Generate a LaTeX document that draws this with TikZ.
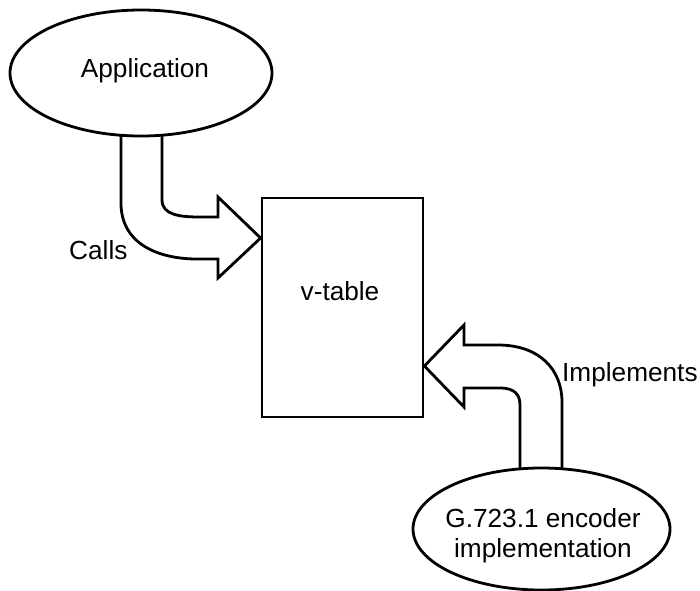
\documentclass[tikz,border=0pt]{standalone}
\usepackage{fontspec}
\setmainfont{Liberation Sans}
\usetikzlibrary{shapes.geometric}
\begin{document}
\begin{tikzpicture}[x=1pt,y=-1pt,
  lw/.style={line width=2.8pt},
  ell/.style={ellipse,draw,lw,inner sep=0pt},
  lbl/.style={anchor=base,inner sep=0pt,font=\fontsize{26.2}{30}\selectfont},
  blockarrow/.style={draw,lw,line join=miter,fill=white}]
\useasboundingbox (0,0) rectangle (700,590);
% shapes
\node[ell,minimum width=262,minimum height=126] (app) at (141,73) {};
\node[ell,minimum width=257,minimum height=122] (enc) at (541.5,529) {};
\node[draw,lw,minimum width=161,minimum height=219,inner sep=0pt] (vt) at (342.5,307.5) {};
% texts
\node[lbl] (tapp) at (145,77) {Application};
\node[lbl] (tvt) at (340,300) {v-table};
\node[lbl] (tenc1) at (543,527) {G.723.1 encoder};
\node[lbl] (tenc2) at (543,557) {implementation};
\node[lbl,anchor=base west] (tcalls) at (69,259) {Calls};
\node[lbl,anchor=base west] (timpl) at (562,381) {Implements};
% block arrow: Application -> v-table
\draw[lw,line join=miter] (121,135) -- (121,203) .. controls (121,245) and (160,259) .. (197,259)
  -- (218,259) -- (218,278) -- (vt.west |- 0,238) -- (218,197) -- (218,217) -- (200,217)
  .. controls (180,217) and (162,215) .. (162,200) -- (162,135);
% block arrow: encoder -> v-table
\draw[lw,line join=miter] (562,469) -- (562,402) .. controls (562,370) and (540,345) .. (498,345)
  -- (464,345) -- (464,325) -- (vt.east |- 0,366) -- (464,407) -- (464,388) -- (500,388)
  .. controls (515,388) and (520,395) .. (520,405) -- (520,469);
\end{tikzpicture}
\end{document}
